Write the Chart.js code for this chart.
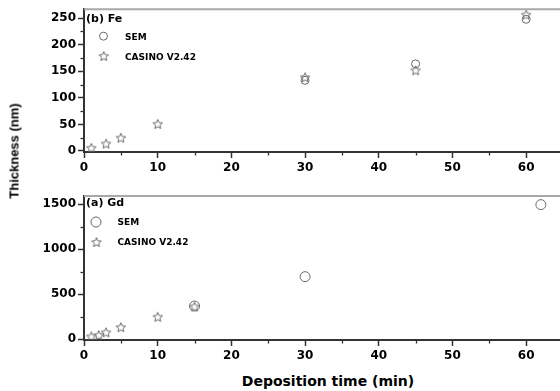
<!DOCTYPE html>
<html><head><meta charset="utf-8">
<script src="https://cdn.jsdelivr.net/npm/chart.js@4"></script>
<style>
html,body{margin:0;padding:0;background:#fff;overflow:hidden;width:560px;height:391px;}
#wrap{position:relative;width:560px;height:391px;overflow:hidden;background:#fff;}
canvas{position:absolute;left:0;}
#c1{top:0}
#c2{top:185px}
.t{position:absolute;color:#000;white-space:nowrap;}
#yt{left:14px;top:151px;transform:translate(-50%,-50%) rotate(-90deg);font:bold 13px "Liberation Sans",Arial,sans-serif;}
#xt{left:328px;top:381px;transform:translate(-50%,-50%);font:bold 14px "DejaVu Sans",sans-serif;}
</style></head><body>
<div id="wrap">
<canvas id="c1" width="600" height="185"></canvas>
<canvas id="c2" width="600" height="185"></canvas>
<div class="t" id="yt">Thickness (nm)</div>
<div class="t" id="xt">Deposition time (min)</div>
</div>
<script>
// ---- data ----
const xTicks = [0, 10, 20, 30, 40, 50, 60];
const feTicks = [0, 50, 100, 150, 200, 250];
const gdTicks = [0, 500, 1000, 1500];

const feSemX = [30, 45, 60];
const feSemY = [133, 164, 248];
const feCasX = [1, 3, 5, 10, 30, 45, 60];
const feCasY = [6, 14, 25, 51, 139, 152, 257];

const gdSemX = [15, 30, 62];
const gdSemY = [367, 694, 1496];
const gdCasX = [1, 2, 3, 5, 10, 15];
const gdCasY = [30, 45, 75, 133, 248, 362];

const seriesNames = ['SEM', 'CASINO V2.42'];
const panelNames = ['(b) Fe', '(a) Gd'];

// ---- helpers ----
const MARK = '#6a6a6a';
function starImg(r) {
  const c = document.createElement('canvas');
  const s = Math.ceil(r * 2 + 4);
  c.width = s; c.height = s;
  const g = c.getContext('2d');
  g.translate(s / 2, s / 2 + 0.6);
  g.beginPath();
  for (let i = 0; i < 10; i++) {
    const rr = i % 2 ? r * 0.45 : r;
    const a = -Math.PI / 2 + i * Math.PI / 5;
    g.lineTo(rr * Math.cos(a), rr * Math.sin(a));
  }
  g.closePath();
  g.strokeStyle = MARK; g.lineWidth = 1; g.stroke();
  return c;
}
const STAR = starImg(5);

function pts(xs, ys) { return xs.map((x, i) => ({ x: x, y: ys[i] })); }
function minors(arr, min, max) {
  const step = arr[1] - arr[0], out = [];
  for (let v = arr[0] - step / 2; v <= max + 1e-9; v += step) if (v >= min) out.push(v);
  return out.filter(v => !arr.includes(v));
}

const tickFont = { family: 'DejaVu Sans', weight: 'bold', size: 12 };

const deco = {
  id: 'deco',
  afterDraw(chart, args, o) {
    const { ctx, chartArea: a, scales } = chart;
    ctx.save();
    // top frame
    ctx.strokeStyle = '#a8a8a8'; ctx.lineWidth = 2;
    ctx.beginPath(); ctx.moveTo(a.left, a.top); ctx.lineTo(a.right + 2, a.top); ctx.stroke();
    // minor ticks
    ctx.strokeStyle = '#333'; ctx.lineWidth = 1.3;
    const xs = scales.x, ys = scales.y;
    minors(xTicks, xs.min, xs.max).forEach(v => {
      const p = Math.round(xs.getPixelForValue(v)) + 0.5;
      ctx.beginPath(); ctx.moveTo(p, a.bottom); ctx.lineTo(p, a.bottom + 3.5); ctx.stroke();
    });
    minors(o.yTicks, ys.min, ys.max).forEach(v => {
      const p = Math.round(ys.getPixelForValue(v)) + 0.5;
      ctx.beginPath(); ctx.moveTo(a.left, p); ctx.lineTo(a.left - 3.5, p); ctx.stroke();
    });
    // panel label
    ctx.fillStyle = '#000';
    ctx.textBaseline = 'middle'; ctx.textAlign = 'left';
    ctx.font = 'bold 11px "DejaVu Sans"';
    ctx.fillText(o.panel, a.left + o.lab[0], a.top + o.lab[1]);
    // legend
    ctx.font = 'bold 9px "DejaVu Sans"';
    const ds = chart.data.datasets;
    ctx.strokeStyle = MARK; ctx.lineWidth = 1;
    ctx.beginPath(); ctx.arc(a.left + o.c[0], a.top + o.c[1], ds[0].pointRadius, 0, Math.PI * 2); ctx.stroke();
    ctx.fillText(ds[0].label, a.left + o.t1[0], a.top + o.t1[1]);
    ctx.drawImage(STAR, a.left + o.s[0] - STAR.width / 2, a.top + o.s[1] - STAR.height / 2);
    ctx.fillText(ds[1].label, a.left + o.t2[0], a.top + o.t2[1]);
    ctx.restore();
  }
};

function make(id, semX, semY, casX, casY, yTicks, yMin, yMax, padTop, padBottom, circR, leg) {
  return new Chart(document.getElementById(id), {
    type: 'scatter',
    data: {
      datasets: [
        { label: seriesNames[0], data: pts(semX, semY), pointStyle: 'circle', pointRadius: circR,
          borderColor: MARK, backgroundColor: 'rgba(0,0,0,0)', borderWidth: 1, pointHoverRadius: circR },
        { label: seriesNames[1], data: pts(casX, casY), pointStyle: STAR, pointRadius: 5,
          borderColor: MARK, backgroundColor: 'rgba(0,0,0,0)' }
      ]
    },
    options: {
      responsive: false, animation: false, devicePixelRatio: 1,
      layout: { padding: { left: 0, right: 37, top: padTop, bottom: padBottom } },
      plugins: { legend: { display: false }, tooltip: { enabled: false }, title: { display: false }, deco: leg },
      scales: {
        x: {
          type: 'linear', min: 0, max: 65,
          afterBuildTicks: s => { s.ticks = xTicks.map(v => ({ value: v })); },
          afterFit: s => { s.height = 30; },
          border: { color: '#333', width: 2 },
          grid: { drawOnChartArea: false, tickLength: 6, color: '#333', tickWidth: 1.5 },
          ticks: { color: '#000', font: tickFont, padding: 3, maxRotation: 0, autoSkip: false,
                   callback: v => String(v) }
        },
        y: {
          type: 'linear', min: yMin, max: yMax,
          afterBuildTicks: s => { s.ticks = yTicks.map(v => ({ value: v })); },
          afterFit: s => { s.width = 84; },
          border: { color: '#333', width: 2 },
          grid: { drawOnChartArea: false, tickLength: 6, color: '#333', tickWidth: 1.5 },
          ticks: { color: '#000', font: tickFont, padding: 2, autoSkip: false,
                   callback: v => String(v) }
        }
      }
    },
    plugins: [deco]
  });
}

make('c1', feSemX, feSemY, feCasX, feCasY, feTicks, -2, 267, 7, 3, 4,
  { yTicks: feTicks, panel: panelNames[0], lab: [2, 10], c: [19.5, 27], t1: [41, 28.5], s: [19.7, 46.7], t2: [41, 48] });
make('c2', gdSemX, gdSemY, gdCasX, gdCasY, gdTicks, -11, 1592, 11, 0, 5,
  { yTicks: gdTicks, panel: panelNames[1], lab: [2, 7], c: [12, 26], t1: [33.5, 26.5], s: [12.5, 46], t2: [33.5, 47] });
</script>
</body></html>
